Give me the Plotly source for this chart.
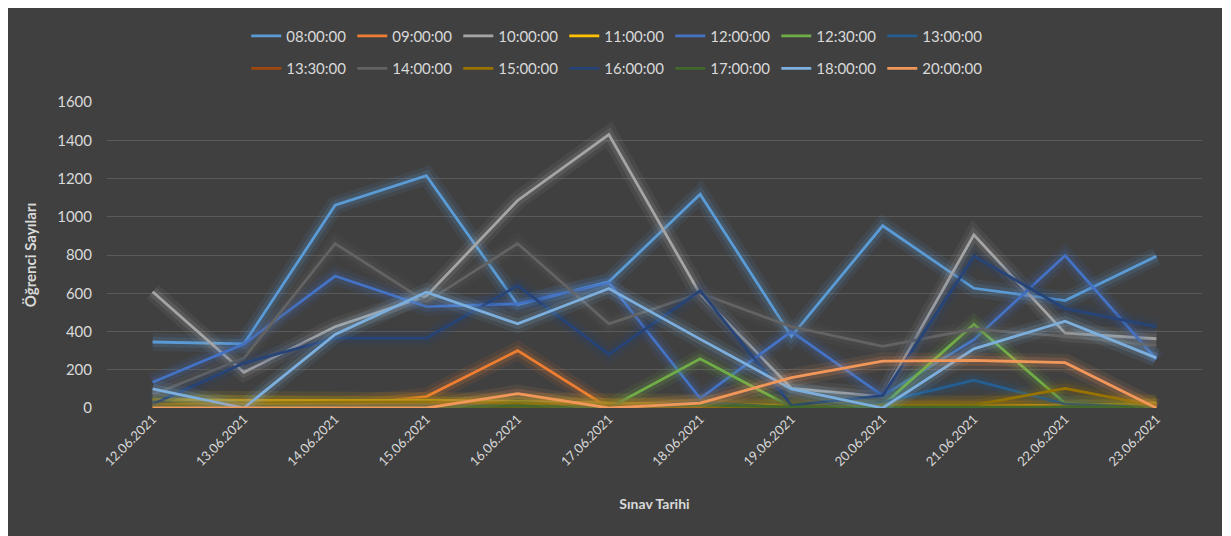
import plotly.graph_objects as go

DATES = [
    "12.06.2021", "13.06.2021", "14.06.2021", "15.06.2021", "16.06.2021", "17.06.2021",
    "18.06.2021", "19.06.2021", "20.06.2021", "21.06.2021", "22.06.2021", "23.06.2021",
]

S_0800 = [345, 335, 1060, 1215, 540, 660, 1118, 375, 953, 626, 562, 794]
S_0900 = [0, 0, 10, 60, 300, 0, 20, 0, 0, 0, 0, 0]
S_1000 = [608, 187, 425, 585, 1085, 1430, 595, 103, 60, 905, 391, 362]
S_1100 = [45, 40, 40, 40, 35, 25, 20, 15, 10, 10, 15, 25]
S_1200 = [135, 335, 690, 530, 545, 655, 50, 400, 65, 357, 797, 255]
S_1230 = [35, 15, 10, 5, 30, 0, 257, 5, 14, 437, 25, 0]
S_1300 = [30, 0, 10, 10, 20, 0, 30, 0, 30, 146, 20, 0]
S_1330 = [5, 0, 0, 0, 5, 0, 0, 0, 0, 5, 5, 0]
S_1400 = [70, 260, 860, 555, 860, 440, 600, 425, 322, 413, 374, 327]
S_1500 = [20, 25, 30, 30, 25, 10, 10, 5, 10, 15, 103, 10]
S_1600 = [20, 235, 365, 365, 640, 280, 614, 14, 65, 794, 520, 425]
S_1700 = [10, 10, 5, 5, 10, 5, 15, 5, 5, 5, 5, 5]
S_1800 = [100, 0, 385, 605, 440, 625, 360, 100, 0, 309, 454, 262]
S_2000 = [0, 0, 0, 0, 75, 0, 25, 159, 245, 249, 237, 0]

SERIES = [
    ("08:00:00", S_0800, "#5B9BD5"),
    ("09:00:00", S_0900, "#ED7D31"),
    ("10:00:00", S_1000, "#A5A5A5"),
    ("11:00:00", S_1100, "#FFC000"),
    ("12:00:00", S_1200, "#4472C4"),
    ("12:30:00", S_1230, "#70AD47"),
    ("13:00:00", S_1300, "#255E91"),
    ("13:30:00", S_1330, "#9E480E"),
    ("14:00:00", S_1400, "#636363"),
    ("15:00:00", S_1500, "#997300"),
    ("16:00:00", S_1600, "#264478"),
    ("17:00:00", S_1700, "#43682B"),
    ("18:00:00", S_1800, "#7CAFDD"),
    ("20:00:00", S_2000, "#F1975A"),
]

TEXT = "#D9D9D9"
FONT = "Lato"


def _rgba(hex_color, a):
    h = hex_color.lstrip("#")
    r, g, b = int(h[0:2], 16), int(h[2:4], 16), int(h[4:6], 16)
    return f"rgba({r},{g},{b},{a})"


fig = go.Figure()
for i, (name, values, color) in enumerate(SERIES):
    # soft glow under each line, like the Excel effect
    for w, a in ((18, 0.09), (10, 0.17)):
        fig.add_trace(go.Scatter(
            x=DATES, y=values, mode="lines",
            line=dict(color=_rgba(color, a), width=w),
            showlegend=False, hoverinfo="skip",
        ))
    fig.add_trace(go.Scatter(
        x=DATES, y=values, mode="lines", name=name,
        line=dict(color=color, width=2.8),
        legend="legend" if i < 7 else "legend2",
    ))

_legend = dict(
    orientation="h", x=0.466, xanchor="center", yanchor="middle",
    font=dict(family=FONT, size=15, color=TEXT),
    bgcolor="rgba(0,0,0,0)", entrywidth=61, entrywidthmode="pixels",
    itemwidth=30,
)

fig.update_layout(
    width=1214,
    height=528,
    paper_bgcolor="#404040",
    plot_bgcolor="#404040",
    margin=dict(l=99, r=20, t=89, b=128),
    font=dict(family=FONT, color=TEXT),
    legend=dict(_legend, y=1.215),
    legend2=dict(_legend, y=1.109),
    xaxis=dict(
        type="category",
        range=[-0.5, 11.5],
        tickangle=-45,
        tickfont=dict(family=FONT, size=13, color=TEXT),
        showgrid=False,
        zeroline=False,
        ticks="",
        title=dict(text="<b>Sınav Tarihi</b>", font=dict(family=FONT, size=14, color=TEXT), standoff=30),
    ),
    yaxis=dict(
        range=[0, 1600],
        dtick=200,
        gridcolor="#5A5A5A",
        gridwidth=1,
        zeroline=False,
        tickfont=dict(family=FONT, size=15, color=TEXT),
        ticklabelstandoff=14,
        title=dict(text="<b>Öğrenci Sayıları</b>", font=dict(family=FONT, size=15, color=TEXT), standoff=16),
    ),
)

fig.write_html("out.html")
